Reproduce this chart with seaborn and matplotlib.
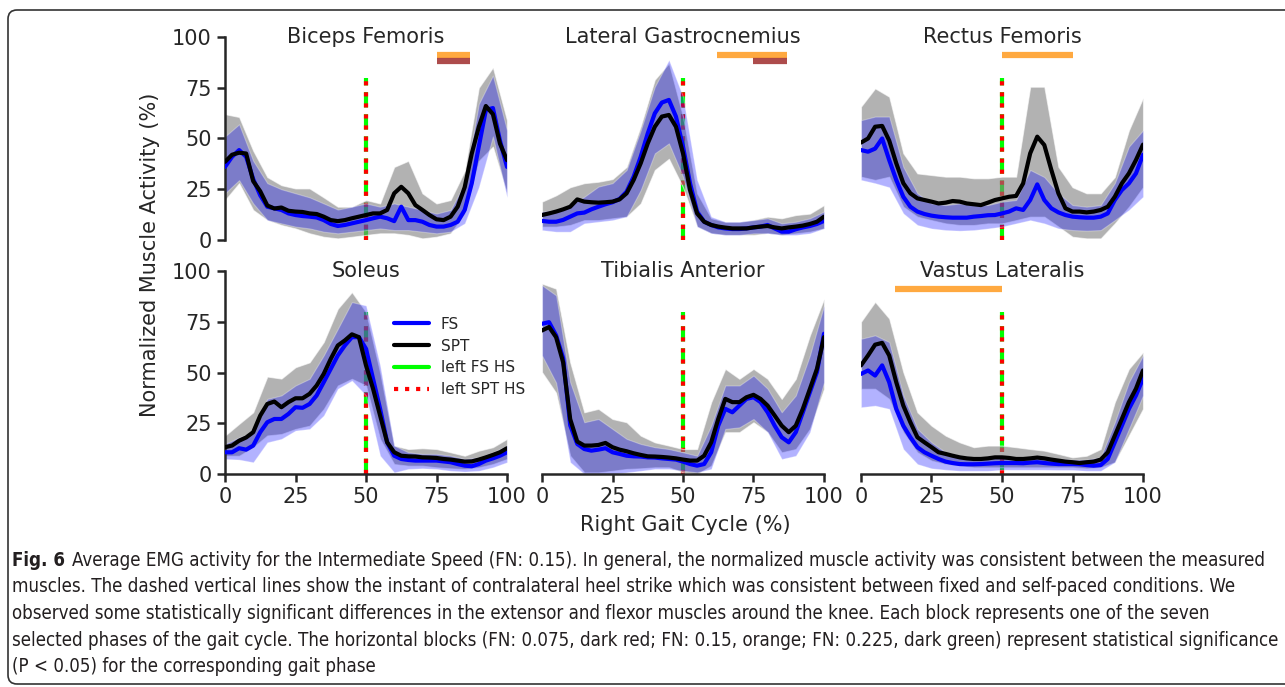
import numpy as np
import pandas as pd
import matplotlib
matplotlib.use("Agg")
import matplotlib.pyplot as plt
import seaborn as sns
from matplotlib.lines import Line2D
from matplotlib.patches import FancyBboxPatch
from matplotlib.transforms import IdentityTransform

# ---------------- data ----------------
pct = np.arange(0, 100.01, 2.5)        # gait cycle for the means (41 samples)
pct_band = np.arange(0, 100.01, 5.0)   # gait cycle for the bands (21 samples)

muscles = ["Biceps Femoris", "Lateral Gastrocnemius", "Rectus Femoris",
           "Soleus", "Tibialis Anterior", "Vastus Lateralis"]

# Biceps Femoris
bf_spt = [38.5, 42, 43, 42.6, 29, 24, 17, 15.5, 16, 14.4, 14, 13.8, 13.1, 12.8, 11.5, 9.8, 9.3, 9.8, 10.7, 11.5,
          12.3, 13.1, 13.1, 14.8, 23, 26.2, 23, 17.2, 14.8, 12.3, 10.2, 9.8, 11.5, 16.4, 26, 42.6, 55.7, 66, 62, 47.5, 39.3]
bf_fs = [36, 41, 44.3, 41, 30, 22, 16.4, 15.6, 14.8, 13.1, 12.3, 11.8, 11.5, 11.1, 9.8, 7.9, 6.9, 7.4, 8.2, 9.0,
         9.8, 10.7, 11.5, 10.7, 9.3, 16.4, 9.8, 9.8, 9.0, 7.4, 6.6, 6.6, 7.4, 9.0, 14.8, 27.9, 46, 64, 65, 49, 36]
bf_spt_hi = [62, 60.6, 44, 31, 27, 25.4, 25.4, 21, 16.4, 16.4, 19.7, 18, 36, 39, 23, 18, 19.7, 34, 75, 85, 59]
bf_spt_lo = [19.7, 28, 14.8, 9.8, 7.4, 5.7, 3.3, 1.6, 0.8, 1.6, 2.5, 3.3, 3.3, 2.5, 0.8, 1.6, 3.3, 13, 39, 46, 23]
bf_fs_hi = [51, 57, 39, 28, 25, 23, 21, 18, 15, 16.4, 18, 16.4, 18, 16.4, 14.8, 13, 14.8, 28, 67, 81, 54]
bf_fs_lo = [23, 29.5, 18, 9.8, 8.2, 6.6, 5.7, 4.1, 3.3, 4.1, 4.9, 5.7, 4.9, 4.9, 4.1, 3.3, 4.1, 8.2, 26, 51, 21]

# Lateral Gastrocnemius
lg_spt = [12.3, 13.1, 14, 15.1, 16.4, 20, 18.9, 18.6, 18.4, 18.6, 18.9, 20, 23, 29.6, 37.8, 47.6, 55.8, 60.8, 61.6, 55.8,
          42.7, 24.6, 13.1, 9, 7.4, 6.6, 6.1, 5.7, 5.7, 5.7, 6.2, 6.6, 6.9, 6.2, 5.7, 6.2, 6.6, 7.1, 7.9, 9, 11.5]
lg_fs = [9.4, 9, 9, 9.9, 11.5, 13.1, 13.5, 15.1, 16.4, 17.6, 18.6, 20.2, 23.8, 31.2, 41, 52.5, 62.4, 67.7, 69, 60.8,
         46, 27.9, 14, 9, 7.4, 6.2, 5.7, 5.4, 5.4, 5.7, 6.2, 6.6, 7.4, 5.7, 4.1, 4.1, 5.3, 6.2, 6.9, 7.9, 9.4]
lg_spt_hi = [18.9, 22, 26, 28, 28.7, 30, 36, 56, 79, 87, 60.8, 23, 10.7, 9, 9, 10, 11.5, 10.7, 12.3, 13, 17.2]
lg_spt_lo = [6.6, 6.6, 7.4, 9.8, 9.8, 10.7, 11.5, 18, 34.5, 40, 26, 6.6, 3.3, 2.5, 2.5, 2.5, 3.3, 2.5, 3.3, 4.1, 5.7]
lg_fs_hi = [14, 14.8, 17.2, 21.3, 26.3, 28, 34.5, 54, 75.5, 88.7, 70.6, 29.6, 11.5, 9, 9, 9.8, 10.7, 8.2, 9, 10.7, 14]
lg_fs_lo = [4.9, 4.1, 4.1, 8.2, 9, 9.8, 11.5, 24.6, 42.7, 47.6, 31.2, 6.6, 3.3, 2.5, 2.5, 3.3, 3.3, 2.5, 2.5, 3.3, 5.7]

# Rectus Femoris
rf_spt = [48, 50, 55.8, 56.2, 49, 37.8, 28, 23, 20.5, 19.7, 18.9, 18, 18.4, 19.2, 18.9, 18, 17.6, 17.2, 18.4, 19.7,
          20.5, 21.3, 21.7, 27.9, 42.7, 50.9, 46.8, 34.5, 23, 15.6, 14, 14, 13.6, 14, 14.8, 16.4, 21.3, 27.9, 32.8, 39.4, 47]
rf_fs = [44.3, 43.5, 45, 50, 39.4, 29.6, 21.3, 16.4, 14, 12.8, 12, 11.5, 11.2, 11, 11, 11, 11.5, 11.8, 12.2, 12.3,
         13.1, 14, 15.6, 14.8, 19.7, 27.4, 19.7, 15.6, 13.6, 12.3, 11.5, 11.2, 11, 11, 11.5, 13.1, 19.7, 24.6, 27.9, 32.8, 42]
rf_spt_hi = [65.7, 74.7, 70.6, 42.7, 32.8, 32, 31.2, 31.2, 30.4, 30.4, 31.2, 31.2, 75.5, 75.5, 36, 26, 23, 23, 31, 54, 70]
rf_spt_lo = [31.2, 29.6, 31.2, 16.4, 11.5, 9.8, 8.2, 7.4, 7.4, 8.2, 8.2, 9.8, 11.5, 11.5, 6.6, 1.6, 0.8, 0.8, 8.2, 16.4, 26]
rf_fs_hi = [59, 60.8, 60.8, 36, 23, 18, 17.2, 18, 17.2, 17.2, 18.9, 19.7, 34.5, 31, 23, 17.2, 16.4, 17.2, 28, 46, 54]
rf_fs_lo = [29.6, 28, 26, 13.1, 7.4, 5.7, 4.9, 4.6, 4.9, 5.7, 6.6, 8.2, 9.8, 8.2, 5.7, 4.9, 4.6, 4.9, 9.8, 14.8, 21.3]

# Soleus
so_spt = [13.2, 14, 16.4, 18, 20.6, 28.8, 34.5, 35.7, 32.9, 35.4, 37.3, 37.3, 39.5, 43.6, 49.3, 56.7, 63.3, 65.8, 68.8, 67.4,
          53.5, 42, 28.8, 15.6, 10.7, 9, 8.7, 8.6, 8.2, 8.1, 7.9, 7.4, 7.1, 6.6, 6.1, 6.2, 7.1, 8.2, 9.4, 10.7, 12.7]
so_fs = [10.7, 10.7, 12.7, 12, 14, 20.6, 25.5, 27.1, 27.1, 29.6, 32.9, 32.6, 34.5, 38.7, 45.2, 51.8, 58.4, 63.3, 67.4, 67.4,
         61.7, 46.9, 32.1, 15.6, 9, 7.4, 6.9, 6.6, 6.6, 6.6, 6.6, 6.2, 5.8, 4.9, 4.1, 3.8, 4.9, 6.6, 7.7, 9, 10.7]
so_spt_hi = [18.9, 24.7, 30.4, 48, 47, 52.6, 55, 65, 81.4, 89.6, 79.8, 50, 14, 12.3, 12.7, 12.3, 10.7, 9, 11.5, 13.2, 17.3]
so_spt_lo = [9, 9, 13.2, 19, 19.7, 22.2, 23.8, 32, 43.6, 46.9, 43.6, 17.3, 4.9, 4.1, 4.1, 3.3, 2.8, 2.5, 3.3, 4.9, 7.4]
so_fs_hi = [14.8, 18, 20.6, 37, 38.7, 43.6, 46.9, 58.4, 71.5, 84.7, 83, 53.5, 14, 10.7, 9.9, 9.9, 9, 7.4, 8.2, 10.7, 14]
so_fs_lo = [7.4, 7.1, 5.8, 15.6, 17.3, 21.4, 22.2, 28.8, 42, 46, 38.7, 9, 0.8, 2.5, 2.8, 2.5, 1.6, 1.2, 1.6, 3.3, 5.8]

# Tibialis Anterior
ta_spt = [70.7, 72.4, 67.4, 55, 27, 16, 14, 14, 14.3, 15.3, 13.2, 12, 11.2, 10.2, 9.4, 8.7, 8.6, 8.4, 8.1, 7.7,
          7.1, 6.6, 6.6, 9, 15.6, 27.1, 37, 35.4, 35.4, 37.8, 39, 37, 33.7, 28.8, 23.8, 20.6, 23.8, 32.1, 41.9, 51.8, 67.4]
ta_fs = [74, 74.8, 68.3, 57, 24, 14.8, 12.3, 11.5, 12, 12.7, 10.7, 9.9, 9, 8.7, 8.6, 8.2, 8.1, 7.7, 7.4, 7.1,
         6.1, 4.9, 4.1, 4.9, 10.7, 23.8, 32.1, 30.4, 33.7, 37, 37.8, 35.4, 30.4, 23.8, 18.1, 15.6, 20.6, 30.4, 40.3, 50.2, 69.1]
ta_spt_hi = [93.8, 91.3, 55, 30.4, 32.1, 27.1, 25.5, 18.9, 15.6, 14, 12.3, 12.3, 35.4, 51.8, 46.9, 51.8, 46.9, 37, 46.9, 68.3, 86.3]
ta_spt_lo = [50.2, 40, 9, 0.8, 0.8, 1.6, 2.5, 2.8, 3.3, 3.3, 0.8, 0, 4.1, 20.6, 20.6, 25.5, 20.6, 10.7, 12.3, 22.2, 42]
ta_fs_hi = [93, 88, 45.2, 25.5, 27.1, 22.2, 17.3, 14.8, 13.2, 12.3, 10.7, 9, 23.8, 43.6, 43.6, 48.5, 42, 30.4, 38.7, 58.4, 83]
ta_fs_lo = [58.4, 45, 5.8, 0, 0, 0, 0.8, 1.6, 2.5, 2.5, 1.6, 0.8, 2.5, 22.2, 23, 27.1, 20.6, 7.4, 9, 20.6, 45.2]

# Vastus Lateralis
vl_spt = [53.5, 58.4, 63.7, 64.6, 58.4, 45.2, 33.7, 25.5, 18.1, 15.6, 13.2, 10.7, 9.9, 9, 8.2, 7.7, 7.4, 7.4, 7.7, 8.2,
          8.2, 7.9, 7.4, 7.4, 7.7, 8.1, 7.7, 7.1, 6.6, 6.1, 5.8, 5.4, 5.8, 6.1, 7.1, 10.7, 18.9, 27.1, 35.4, 42, 51]
vl_fs = [49.3, 51, 48.5, 53.5, 45.2, 32.1, 23.8, 18.1, 13.2, 10.7, 9, 7.4, 6.1, 5.4, 4.9, 4.8, 4.8, 4.9, 5.1, 5.3,
         5.4, 5.4, 5.4, 5.3, 5.6, 5.8, 5.4, 5.1, 4.9, 4.9, 4.9, 4.8, 4.4, 4.1, 4.4, 7.4, 15.6, 23.8, 32.1, 38.7, 47]
vl_spt_hi = [75, 84.8, 76.6, 50.2, 30.4, 23.8, 18.9, 15.6, 13.2, 14, 14, 13.2, 12.3, 11.5, 9.9, 8.2, 9, 12.3, 35.4, 51.8, 60]
vl_spt_lo = [42, 42, 37, 20.6, 10.7, 6.6, 4.9, 4.1, 3.3, 3.3, 3.3, 3.3, 3.3, 3.3, 3.3, 3.3, 2.8, 3.3, 5.8, 18.9, 32.1]
vl_fs_hi = [66.6, 68.3, 65, 38.7, 22.2, 15.6, 10.7, 9, 8.2, 8.2, 8.2, 8.2, 8.2, 8.2, 7.4, 7.1, 7.1, 8.2, 25.5, 45.2, 58.4]
vl_fs_lo = [32.9, 33.7, 32.1, 12.3, 4.9, 2.8, 2.1, 1.6, 1.6, 1.6, 2.1, 2.1, 2.1, 2.1, 2, 2, 1.6, 1.6, 5.8, 22.2, 38.7]

# contralateral (left) heel strike instants, % of right gait cycle
left_hs_fs = 50.0
left_hs_spt = 50.0

# gait phases and significant phases
phase_edges = [0, 12, 30, 50, 62, 75, 87, 100]
sig_fn015 = {"Biceps Femoris": [5], "Lateral Gastrocnemius": [4, 5], "Rectus Femoris": [3, 4],
             "Soleus": [], "Tibialis Anterior": [], "Vastus Lateralis": [1, 2]}
sig_fn0075 = {"Biceps Femoris": [5], "Lateral Gastrocnemius": [5], "Rectus Femoris": [],
              "Soleus": [], "Tibialis Anterior": [], "Vastus Lateralis": []}

means = {
    "Biceps Femoris": (bf_fs, bf_spt), "Lateral Gastrocnemius": (lg_fs, lg_spt),
    "Rectus Femoris": (rf_fs, rf_spt), "Soleus": (so_fs, so_spt),
    "Tibialis Anterior": (ta_fs, ta_spt), "Vastus Lateralis": (vl_fs, vl_spt),
}
bands = {
    "Biceps Femoris": (bf_fs_lo, bf_fs_hi, bf_spt_lo, bf_spt_hi),
    "Lateral Gastrocnemius": (lg_fs_lo, lg_fs_hi, lg_spt_lo, lg_spt_hi),
    "Rectus Femoris": (rf_fs_lo, rf_fs_hi, rf_spt_lo, rf_spt_hi),
    "Soleus": (so_fs_lo, so_fs_hi, so_spt_lo, so_spt_hi),
    "Tibialis Anterior": (ta_fs_lo, ta_fs_hi, ta_spt_lo, ta_spt_hi),
    "Vastus Lateralis": (vl_fs_lo, vl_fs_hi, vl_spt_lo, vl_spt_hi),
}

rows = []
for m in muscles:
    fs, spt = means[m]
    for p, v in zip(pct, fs):
        rows.append((m, "FS", p, v))
    for p, v in zip(pct, spt):
        rows.append((m, "SPT", p, v))
df = pd.DataFrame(rows, columns=["muscle", "condition", "pct", "value"])

# ---------------- style ----------------
sns.set_style("ticks")
plt.rcParams["font.family"] = ["DejaVu Sans"]
plt.rcParams["axes.linewidth"] = 1.8

W, H = 1285, 687
fig = plt.figure(figsize=(W / 100, H / 100), dpi=100)

col_left = [225, 542, 861]
ax_w = 282
row_top = [37, 271]
ax_h = 203

palette = {"FS": "blue", "SPT": "black"}

for i, m in enumerate(muscles):
    r, c = divmod(i, 3)
    x0 = col_left[c]
    y_top = row_top[r]
    ax = fig.add_axes([x0 / W, 1 - (y_top + ax_h) / H, ax_w / W, ax_h / H])

    # heel strike lines (drawn beneath the bands)
    ax.plot([left_hs_fs, left_hs_fs], [0, 80], color="lime", lw=3, ls="--", zorder=1)
    ax.plot([left_hs_spt, left_hs_spt], [0, 80], color="red", lw=3, ls=":", zorder=1.1)

    fs_lo, fs_hi, spt_lo, spt_hi = bands[m]
    ax.fill_between(pct_band, spt_lo, spt_hi, color="gray", alpha=0.6, lw=0.8,
                    edgecolor=(1, 1, 1, 0.5), zorder=2)
    ax.fill_between(pct_band, fs_lo, fs_hi, color="blue", alpha=0.3, lw=0.8,
                    edgecolor=(1, 1, 1, 0.5), zorder=2.1)

    sub = df[df.muscle == m]
    sns.lineplot(data=sub, x="pct", y="value", hue="condition", hue_order=["FS", "SPT"],
                 palette=palette, lw=3, ax=ax, legend=False, zorder=3)

    for k in sig_fn015[m]:
        ax.plot([phase_edges[k], phase_edges[k + 1]], [91, 91], color="darkorange", alpha=0.75,
                lw=4.5, solid_capstyle="butt", zorder=4)
    for k in sig_fn0075[m]:
        ax.plot([phase_edges[k], phase_edges[k + 1]], [88, 88], color="darkred", alpha=0.7,
                lw=4.5, solid_capstyle="butt", zorder=4)

    ax.set_xlim(0, 100)
    ax.set_ylim(0, 100)
    ax.set_xlabel("")
    ax.set_ylabel("")
    ax.text(0.5, 0.97, m, transform=ax.transAxes, ha="center", va="baseline", fontsize=15)

    for s in ["top", "right"]:
        ax.spines[s].set_visible(False)
    ax.set_xticks([0, 25, 50, 75, 100])
    ax.set_yticks([0, 25, 50, 75, 100])
    ax.tick_params(labelsize=15, length=6, width=1.8)
    if c != 0:
        ax.spines["left"].set_visible(False)
        ax.tick_params(axis="y", left=False, labelleft=False)
    if r == 0:
        ax.spines["bottom"].set_visible(False)
        ax.tick_params(axis="x", bottom=False, labelbottom=False)
    ax.patch.set_alpha(0)

    if m == "Soleus":
        handles = [Line2D([], [], color="blue", lw=3),
                   Line2D([], [], color="black", lw=3),
                   Line2D([], [], color="lime", lw=3),
                   Line2D([], [], color="red", lw=3, ls=":")]
        ax.legend(handles, ["FS", "SPT", "left FS HS", "left SPT HS"], loc="upper left",
                  bbox_to_anchor=(0.6, 0.775), frameon=False, fontsize=11, handlelength=2.3,
                  labelspacing=0.45, handletextpad=0.75, borderaxespad=0, borderpad=0)

fig.text(150 / W, 1 - 255 / H, "Normalized Muscle Activity (%)", rotation=90,
         ha="center", va="center", fontsize=15)
fig.text(685 / W, 1 - 525 / H, "Right Gait Cycle (%)", ha="center", va="center", fontsize=15)

# ---------------- caption and frame ----------------
box = FancyBboxPatch((8, 3), 1320, 674, boxstyle="round,pad=0,rounding_size=9",
                     transform=IdentityTransform(), facecolor="none", edgecolor="#333333",
                     lw=1.2, figure=fig)
fig.patches.append(box)

cap_color = "#231f20"
cap_kw = dict(family=["DejaVu Sans"], fontstretch="condensed", color=cap_color, va="baseline")
cap_lines = [
    "Average EMG activity for the Intermediate Speed (FN: 0.15). In general, the normalized muscle activity was consistent between the measured",
    "muscles. The dashed vertical lines show the instant of contralateral heel strike which was consistent between fixed and self-paced conditions. We",
    "observed some statistically significant differences in the extensor and flexor muscles around the knee. Each block represents one of the seven",
    "selected phases of the gait cycle. The horizontal blocks (FN: 0.075, dark red; FN: 0.15, orange; FN: 0.225, dark green) represent statistical significance",
    "(P < 0.05) for the corresponding gait phase",
]
max_right = 1276
baselines = [566, 592.5, 619, 645.5, 672]
fs_cap = 12.5
renderer = fig.canvas.get_renderer()
t_fig = fig.text(12 / W, 1 - baselines[0] / H, "Fig. 6", fontweight="bold", fontsize=fs_cap, **cap_kw)
texts = []
for j, line in enumerate(cap_lines):
    texts.append(fig.text(12 / W, 1 - baselines[j] / H, line, fontsize=fs_cap, **cap_kw))

def place_and_measure():
    bb = t_fig.get_window_extent(renderer)
    texts[0].set_x((bb.x1 + 7) / W)
    return [t.get_window_extent(renderer).x1 for t in texts]

for _ in range(4):
    rights = place_and_measure()
    scale = (max_right - 12) / (max(rights) - 12)
    fs_cap *= scale
    t_fig.set_fontsize(fs_cap)
    for t in texts:
        t.set_fontsize(fs_cap)
place_and_measure()

fig.savefig("out.png", dpi=100)
